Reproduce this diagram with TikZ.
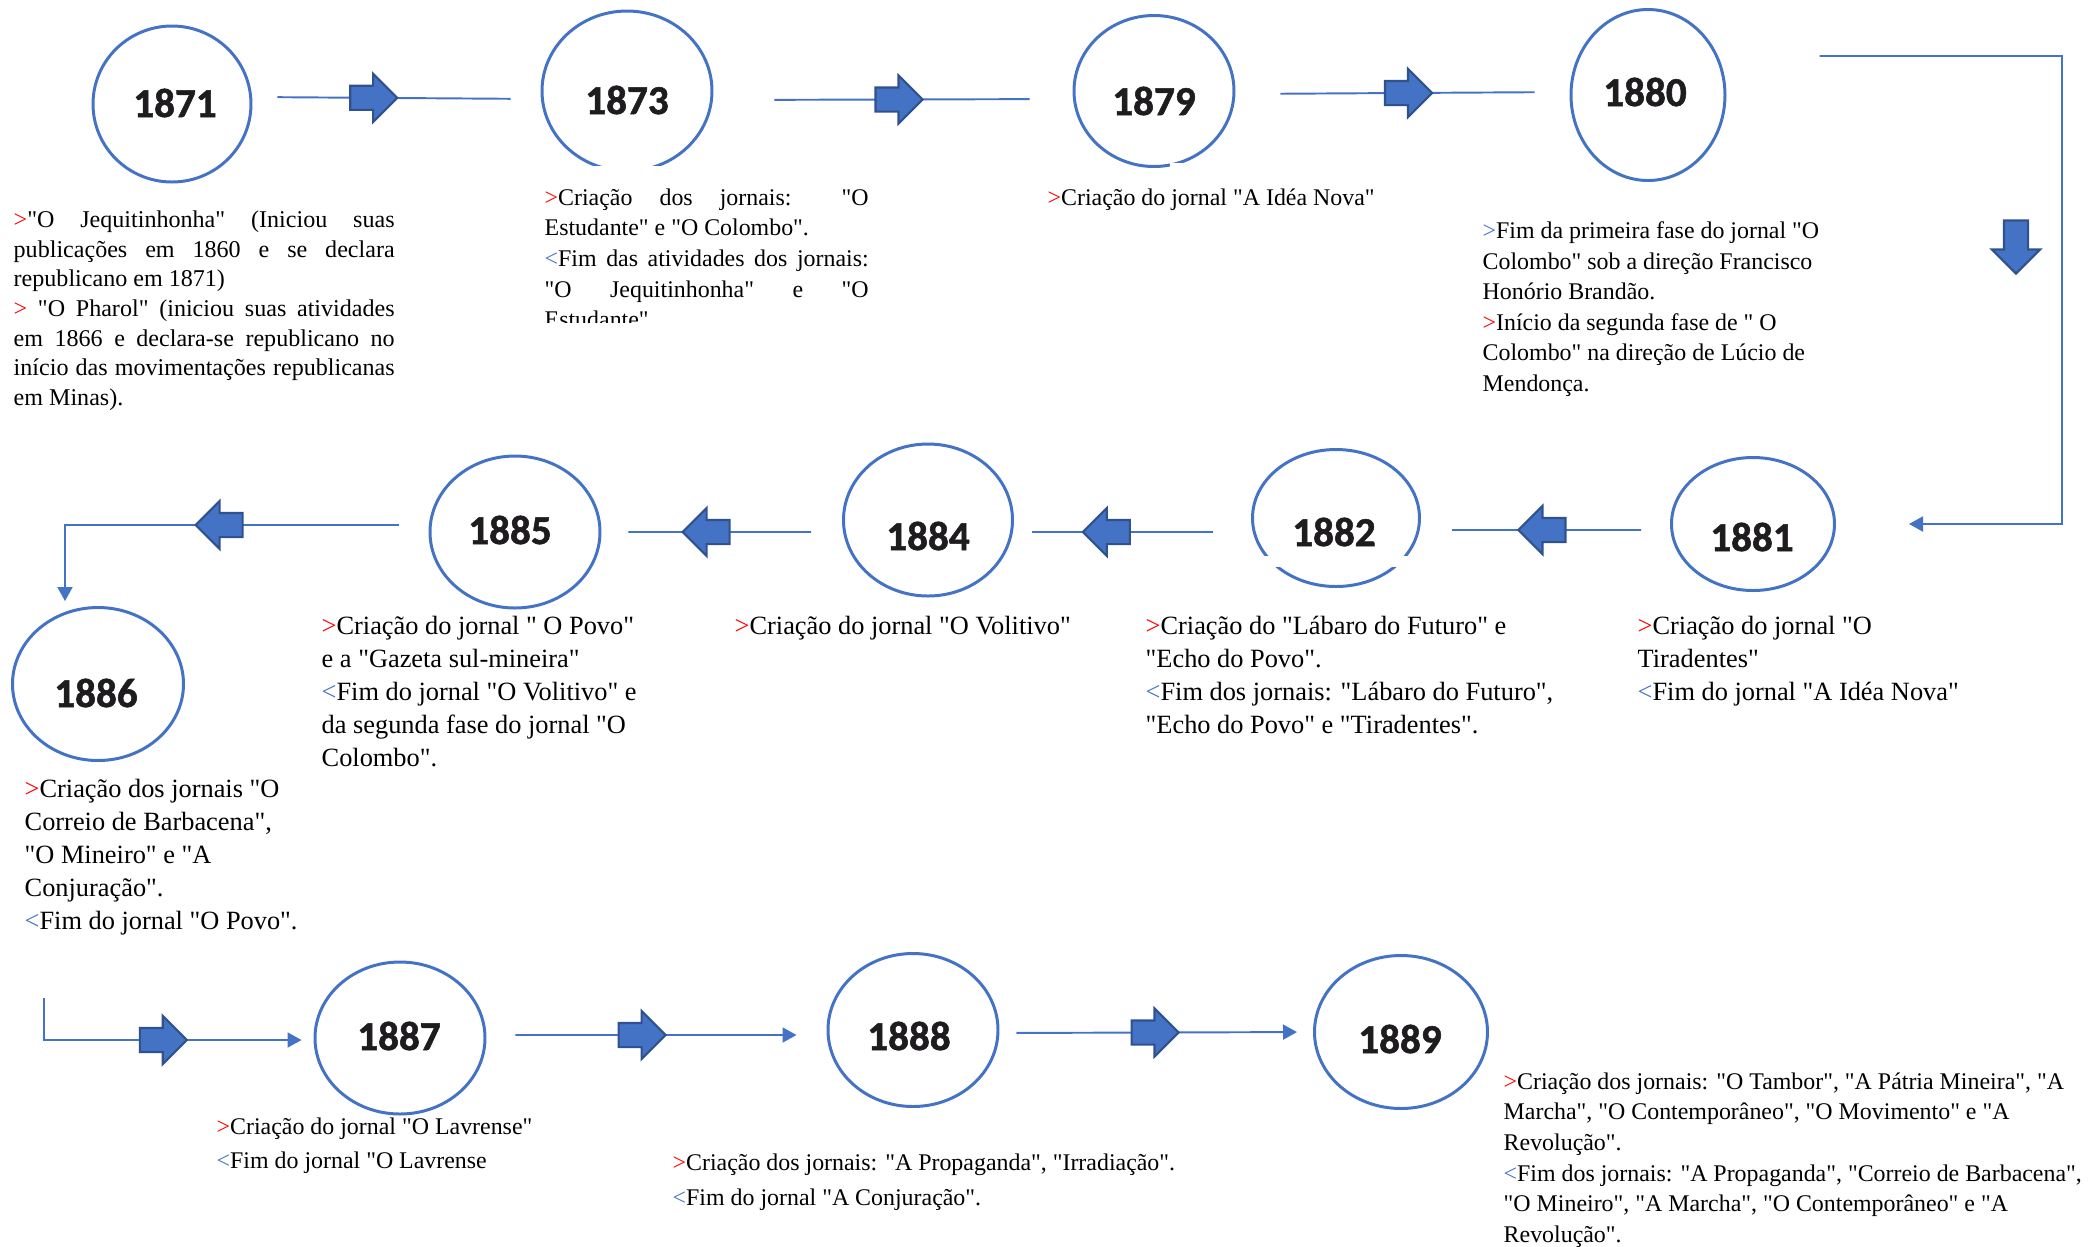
\documentclass[tikz,border=0pt]{standalone}
\usepackage{fontspec}
\usetikzlibrary{shapes.geometric,shapes.arrows,arrows.meta}
\newfontfamily\notefont{Liberation Serif}
\newfontfamily\yearfont[BoldFeatures={FakeBold=1.3}]{Carlito}
\definecolor{ringblue}{RGB}{68,114,196}
\definecolor{edgeblue}{RGB}{47,82,143}
\definecolor{markred}{RGB}{255,0,0}
\definecolor{yearink}{RGB}{30,28,30}
\newcommand{\novo}{{\color{markred}>}}
\newcommand{\fase}{{\color{ringblue}>}}
\newcommand{\fim}{{\color{ringblue}<}}

\begin{document}
\begin{tikzpicture}[
	ring/.style={ellipse, draw=ringblue, line width=0.85pt, inner sep=0pt},
	yr/.style={font=\yearfont\bfseries\fontsize{11.7}{14}\selectfont, text=yearink, inner sep=0pt},
	note/.style={anchor=north west, inner sep=0pt, align=left, font=\notefont\fontsize{6.8}{8.7}\selectfont},
	big/.style={font=\notefont\fontsize{7.5}{9.4}\selectfont},
	link/.style={draw=ringblue, line width=0.55pt},
	endtip/.style={-{Triangle[length=0.14cm,width=0.15cm]}},
	barrow/.style={single arrow, draw=edgeblue, fill=ringblue, line width=0.6pt, inner xsep=0pt, inner ysep=0.11cm, minimum height=0.47cm, minimum width=0pt, single arrow head extend=0.12cm},
	leftward/.style={shape border rotate=180}]
	\useasboundingbox (0,0) rectangle (21,-12.46);
	\foreach \yr/\x/\y/\w/\h/\dx/\dy in {1871/1.72/-1.04/1.58/1.56/0.03/0.01, 1873/6.27/-0.91/1.70/1.60/0/-0.09,
		1879/11.54/-0.91/1.60/1.51/0/-0.10, 1880/16.48/-0.95/1.54/1.71/-0.03/0.03,
		1881/17.53/-5.24/1.63/1.33/-0.01/-0.13, 1882/13.36/-5.18/1.67/1.37/-0.02/-0.14,
		1884/9.28/-5.20/1.69/1.52/0/-0.16, 1885/5.15/-5.32/1.70/1.52/-0.05/0.02,
		1886/0.98/-6.84/1.71/1.53/-0.02/-0.09, 1887/4.00/-10.38/1.70/1.52/-0.01/0.02,
		1888/9.13/-10.30/1.70/1.53/-0.04/-0.06, 1889/14.01/-10.32/1.73/1.53/-0.01/-0.07} {
		\node[ring, minimum width=\w cm, minimum height=\h cm] (c\yr) at (\x,\y) {};
		\node[yr] (y\yr) at ([shift={(\dx,\dy)}]c\yr.center) {\yr};
	}
	\fill[white] (5.85,-1.655) rectangle (6.90,-1.80);
	\fill[white] (11.70,-1.625) rectangle (11.95,-1.75);
	\fill[white] (12.50,-5.56) rectangle (14.25,-5.67);

	\draw[link, shorten <=0.25cm, shorten >=0.30cm] ([yshift=0.07cm]c1871.east) -- node[barrow, pos=0.40] (a1) {} ([yshift=-0.08cm]c1873.west);
	\draw[link, shorten <=0.61cm, shorten >=0.43cm] ([yshift=-0.09cm]c1873.east) -- node[barrow, pos=0.50] (a2) {} ([yshift=-0.08cm]c1879.west);
	\draw[link, shorten <=0.45cm, shorten >=0.35cm] ([yshift=-0.03cm]c1879.east) -- node[barrow, pos=0.50] (a3) {} ([yshift=0.03cm]c1880.west);
	\coordinate (turn1) at (20.62,-0.56);
	\draw[link, endtip] ([xshift=0.93cm,yshift=0.39cm]c1880.east) -- (turn1) |- ([xshift=0.73cm]c1881.east);
	\node[barrow, shape border rotate=270, inner xsep=0.11cm, inner ysep=0pt, minimum height=0.53cm] (a0) at (20.16,-2.41) {};
	\draw[link, shorten <=0.29cm, shorten >=0.31cm] ([yshift=-0.06cm]c1881.west) -- node[barrow, leftward, pos=0.49] (a4) {} ([yshift=-0.12cm]c1882.east);
	\draw[link, shorten <=0.38cm, shorten >=0.18cm] ([yshift=-0.14cm]c1882.west) -- node[barrow, leftward, pos=0.585] (a5) {} ([yshift=-0.12cm]c1884.east);
	\draw[link, shorten <=0.31cm, shorten >=0.27cm] ([yshift=-0.12cm]c1884.west) -- node[barrow, leftward, pos=0.54] (a6) {} (c1885.east);
	\draw[link, endtip] ([xshift=-0.30cm,yshift=0.07cm]c1885.west) -| node[barrow, leftward, pos=0.26] (a7) {} ([xshift=-0.33cm,yshift=0.05cm]c1886.north);
	\coordinate (turn2) at (0.44,-9.98);
	\draw[link, endtip] (turn2) |- node[barrow, pos=0.72] (a8) {} ([xshift=-0.12cm,yshift=-0.02cm]c1887.west);
	\draw[link, endtip, shorten <=0.29cm, shorten >=0.30cm] ([yshift=0.03cm]c1887.east) -- node[barrow, pos=0.44] (a9) {} ([yshift=-0.05cm]c1888.west);
	\draw[link, endtip, shorten <=0.17cm, shorten >=0.16cm] ([yshift=-0.03cm]c1888.east) -- node[barrow, pos=0.477] (a10) {} (c1889.west);

	\node[note, text width=3.81cm, align=justify, font=\notefont\fontsize{6.85}{8.45}\selectfont] (t1871) at (0.13,-2.10) {\novo"O Jequitinhonha" (Iniciou suas\linebreak publicações em 1860 e se declara\linebreak republicano em 1871)\\ \novo\ "O Pharol" (iniciou suas atividades\linebreak em 1866 e declara-se republicano no\linebreak início das movimentações republicanas\linebreak em Minas).};
	\begin{scope}
		\clip (5.30,-1.70) rectangle (8.90,-3.22);
		\node[note, text width=3.24cm, align=justify] (t1873) at (5.44,-1.88) {\novo Criação dos jornais: "O\linebreak Estudante" e "O Colombo".\\ \fim Fim das atividades dos jornais:\linebreak "O Jequitinhonha" e "O\linebreak Estudante"};
	\end{scope}
	\node[note] (t1879) at (10.47,-1.88) {\novo Criação do jornal "A Idéa Nova"};
	\node[note] (t1880) at (14.82,-2.21) {\fase Fim da primeira fase do jornal "O\\ Colombo" sob a direção Francisco\\ Honório Brandão.\\ \novo Início da segunda fase de " O\\ Colombo" na direção de Lúcio de\\ Mendonça.};
	\node[note, big] (t1881) at (16.37,-6.15) {\novo Criação do jornal "O\\ Tiradentes"\\ \fim Fim do jornal "A Idéa Nova"};
	\node[note, big] (t1882) at (11.45,-6.15) {\novo Criação do "Lábaro do Futuro" e\\ "Echo do Povo".\\ \fim Fim dos jornais: "Lábaro do Futuro",\\ "Echo do Povo" e "Tiradentes".};
	\node[note, big] (t1884) at (7.34,-6.15) {\novo Criação do jornal "O Volitivo"};
	\node[note, big] (t1885) at (3.21,-6.15) {\novo Criação do jornal " O Povo"\\ e a "Gazeta sul-mineira"\\ \fim Fim do jornal "O Volitivo" e\\ da segunda fase do jornal "O\\ Colombo".};
	\node[note, big] (t1886) at (0.24,-7.78) {\novo Criação dos jornais "O\\ Correio de Barbacena",\\ "O Mineiro" e "A\\ Conjuração".\\ \fim Fim do jornal "O Povo".};
	\node[note, font=\notefont\fontsize{6.8}{9.65}\selectfont] (t1887) at (2.16,-11.17) {\novo Criação do jornal "O Lavrense"\\ \fim Fim do jornal "O Lavrense};
	\node[note, font=\notefont\fontsize{6.8}{9.9}\selectfont] (t1888) at (6.72,-11.53) {\novo Criação dos jornais: "A Propaganda", "Irradiação".\\ \fim Fim do jornal "A Conjuração".};
	\node[note] (t1889) at (15.03,-10.72) {\novo Criação dos jornais: "O Tambor", "A Pátria Mineira", "A\\ Marcha", "O Contemporâneo", "O Movimento" e "A\\ Revolução".\\ \fim Fim dos jornais: "A Propaganda", "Correio de Barbacena",\\ "O Mineiro", "A Marcha", "O Contemporâneo" e "A\\ Revolução".};
\end{tikzpicture}
\end{document}
